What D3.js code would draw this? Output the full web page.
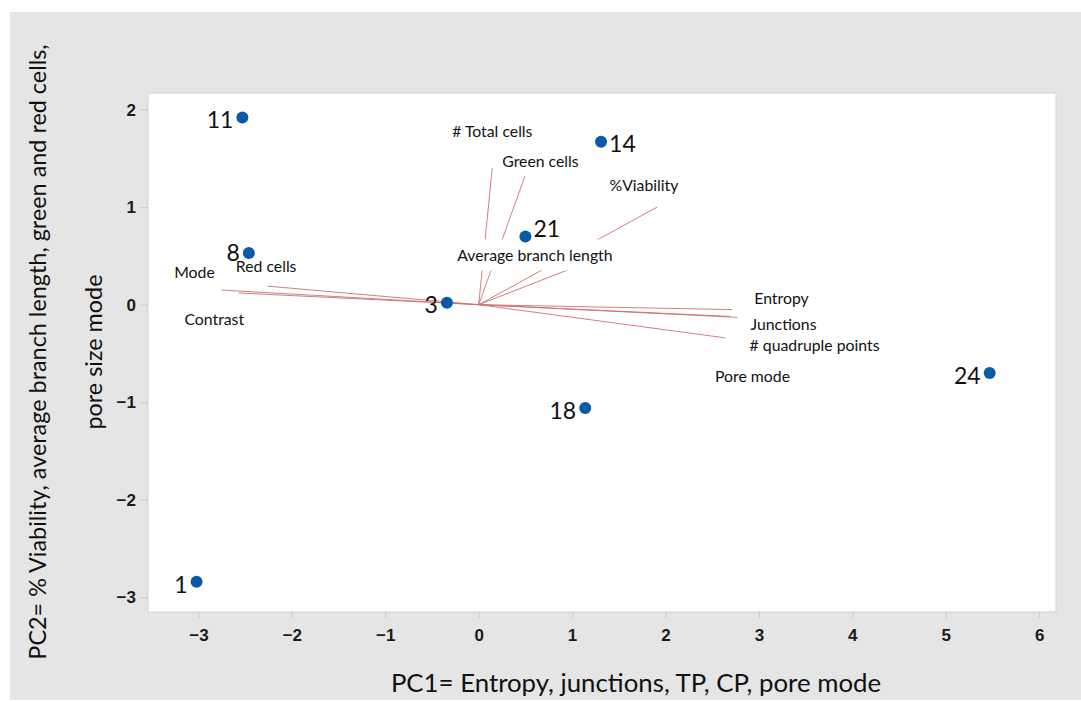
<!DOCTYPE html>
<html>
<head>
<meta charset="utf-8">
<script src="https://cdn.jsdelivr.net/npm/d3@7"></script>
<style>
  html, body { margin: 0; padding: 0; background: #ffffff; }
  svg { display: block; }
</style>
</head>
<body>
<svg id="chart" width="1081" height="702"></svg>
<script>
// PCA biplot: sample scores (blue points) and variable loadings (red rays)

// Sample scores on PC1 / PC2
const sampleIds = ["11", "14", "8", "21", "3", "18", "24", "1"];
const pc1Scores = [-2.53, 1.31, -2.46, 0.50, -0.34, 1.14, 5.47, -3.02];
const pc2Scores = [1.92, 1.67, 0.53, 0.70, 0.02, -1.06, -0.70, -2.84];
const sampleLabelSide = ["left", "right", "left", "right", "left", "left", "left", "left"];
const sampleLabelDy = [2, 1, -1, -8, 1, 2, 2, 2];

// Variable loadings (ray tips)
const variables = ["# Total cells", "Green cells", "%Viability", "Average branch length",
                   "Mode", "Red cells", "Contrast",
                   "Entropy", "Junctions", "# quadruple points", "Pore mode"];
const loadPC1 = [0.145, 0.50, 1.91, 1.07, -2.75, -2.26, -2.57, 2.71, 2.77, 2.64, 2.69];
const loadPC2 = [1.40, 1.33, 1.00, 0.40, 0.15, 0.19, 0.12, -0.05, -0.13, -0.34, -0.12];
// where each variable name is written (left edge / vertical middle, in PC units)
const varLabelPC1 = [-0.284, 0.252, 1.40, -0.23, -3.26, -2.60, -3.15, 2.95, 2.91, 2.90, 2.53];
const varLabelPC2 = [1.79, 1.48, 1.23, 0.51, 0.34, 0.40, -0.14, 0.07, -0.19, -0.41, -0.73];

// Axis ticks and titles
const xTicks = [-3, -2, -1, 0, 1, 2, 3, 4, 5, 6];
const yTicks = [-3, -2, -1, 0, 1, 2];
const xTitle = "PC1= Entropy, junctions, TP, CP, pore mode";
const yTitleLines = ["PC2= % Viability, average branch length, green and red cells,", "pore size mode"];

const svg = d3.select("#chart");
const plot = { left: 148, right: 1056, top: 93, bottom: 612 };

const x = d3.scaleLinear().domain([-3.54, 6.18]).range([plot.left, plot.right]);
const y = d3.scaleLinear().domain([-3.15, 2.17]).range([plot.bottom, plot.top]);

const textFont = "Lato, 'Open Sans', sans-serif";
const tickFmt = d3.format("d");

// page background panel
svg.append("rect")
  .attr("x", 10).attr("y", 12).attr("width", 1071).attr("height", 688)
  .attr("fill", "#e5e5e5");

// plot area
svg.append("rect")
  .attr("x", plot.left).attr("y", plot.top)
  .attr("width", plot.right - plot.left).attr("height", plot.bottom - plot.top)
  .attr("fill", "#ffffff").attr("stroke", "#d4d4d4").attr("stroke-width", 1);

// axes
const xAxis = svg.append("g")
  .attr("transform", `translate(0,${plot.bottom})`)
  .call(d3.axisBottom(x).tickValues(xTicks).tickFormat(tickFmt)
    .tickSize(6).tickPadding(8).tickSizeOuter(0));
const yAxis = svg.append("g")
  .attr("transform", `translate(${plot.left},0)`)
  .call(d3.axisLeft(y).tickValues(yTicks).tickFormat(tickFmt)
    .tickSize(8).tickPadding(4).tickSizeOuter(0));

[xAxis, yAxis].forEach(g => {
  g.select(".domain").remove();
  g.selectAll(".tick line").attr("stroke", "#c8c8c8");
  g.selectAll(".tick text")
    .attr("fill", "#1a1a1a")
    .style("font-family", "'Liberation Sans', Arial, sans-serif")
    .style("font-weight", "bold")
    .style("font-size", "17px");
});
xAxis.selectAll(".tick text").attr("dy", "0.9em");

// loading rays
const rays = svg.append("g");
variables.forEach((v, i) => {
  rays.append("line")
    .attr("x1", x(0)).attr("y1", y(0))
    .attr("x2", x(loadPC1[i])).attr("y2", y(loadPC2[i]))
    .attr("stroke", "#c97070").attr("stroke-width", 0.9);
});

// variable names: white boxes underneath, text on top
const boxLayer = svg.append("g");
const nameLayer = svg.append("g");
variables.forEach((v, i) => {
  const t = nameLayer.append("text")
    .attr("x", x(varLabelPC1[i])).attr("y", y(varLabelPC2[i]))
    .attr("dominant-baseline", "central")
    .attr("fill", "#111")
    .style("font-family", textFont)
    .style("font-size", "15.8px")
    .text(v);
  const b = t.node().getBBox();
  boxLayer.append("rect")
    .attr("x", b.x - 3).attr("y", b.y - 6)
    .attr("width", b.width + 6).attr("height", b.height + 12)
    .attr("fill", "#ffffff");
});

// sample points
const pts = svg.append("g");
sampleIds.forEach((id, i) => {
  const cx = x(pc1Scores[i]), cy = y(pc2Scores[i]);
  pts.append("circle")
    .attr("cx", cx).attr("cy", cy).attr("r", 6)
    .attr("fill", "#0b5aa6");
  const left = sampleLabelSide[i] === "left";
  pts.append("text")
    .attr("x", left ? cx - 9 : cx + 8)
    .attr("y", cy + sampleLabelDy[i])
    .attr("text-anchor", left ? "end" : "start")
    .attr("dominant-baseline", "central")
    .attr("fill", "#111")
    .style("font-family", textFont)
    .style("font-size", "23px")
    .text(id);
});

// axis titles
svg.append("text")
  .attr("x", 636).attr("y", 682)
  .attr("text-anchor", "middle").attr("dominant-baseline", "central")
  .attr("fill", "#111")
  .style("font-family", textFont).style("font-size", "25.8px")
  .text(xTitle);

const yTitle = svg.append("text")
  .attr("transform", "translate(0,352) rotate(-90)")
  .attr("text-anchor", "middle")
  .attr("fill", "#111")
  .style("font-family", textFont).style("font-size", "23.4px");
yTitle.append("tspan").attr("x", 0).attr("y", 37).attr("dominant-baseline", "central").text(yTitleLines[0]);
yTitle.append("tspan").attr("x", 0).attr("y", 93).attr("dominant-baseline", "central").text(yTitleLines[1]);
</script>
</body>
</html>
